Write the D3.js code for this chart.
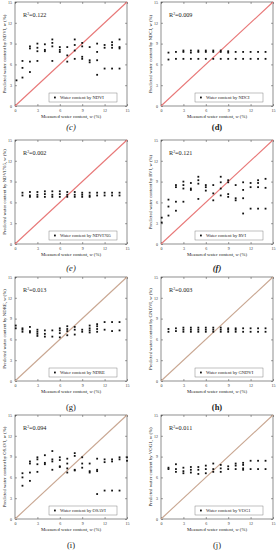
<!DOCTYPE html>
<html>
<head>
<meta charset="utf-8">
<script src="https://cdn.jsdelivr.net/npm/d3@7"></script>
<style>
  html, body { margin: 0; padding: 0; background: #fff; }
  svg text { font-family: "Liberation Serif", "DejaVu Serif", serif; }
</style>
</head>
<body>
<svg id="chart" width="276" height="550"></svg>
<script>
// panel labels, index names and R² values
const panelLabels = ["(c)", "(d)", "(e)", "(f)", "(g)", "(h)", "(i)", "(j)"];
const indexNames = ["NDVI", "NDCI", "NDVI705", "RVI", "NDRE", "GNDVI", "OSAVI", "VOG1"];
const r2Values = ["0.122", "0.009", "0.002", "0.121", "0.013", "0.003", "0.094", "0.011"];
const axisTicks = [0, 3, 6, 9, 12, 15];

// [measured, predicted] pairs for each panel
const ndviPoints = [
  [0.2, 3.7], [1, 6.5], [1, 5.5], [1, 4.1],
  [2, 8.6], [2, 8.3], [2, 6.4], [2, 4.9],
  [3, 9.0], [3, 8.4], [3, 7.9], [3, 6.5],
  [4, 8.9], [4, 8.1], [4, 7.9],
  [5, 9.6], [5, 9.1], [5, 8.6], [5, 6.5],
  [6, 8.5], [6, 8.1], [6, 7.8],
  [7, 8.5], [7, 7.3], [7, 6.4],
  [8, 9.6], [8, 8.8], [8, 8.0], [8, 6.8],
  [9, 9.1], [9, 8.6], [9, 7.1], [9, 6.8],
  [10, 8.5], [10, 6.6], [10, 6.3],
  [11, 9.0], [11, 7.8], [11, 6.6], [11, 4.5],
  [12, 8.8], [12, 8.4], [12, 5.4],
  [13, 9.2], [13, 8.8], [13, 8.4], [13, 5.4],
  [14, 9.6], [14, 8.5], [14, 8.3], [14, 5.4]
];
const ndciPoints = [
  [1, 7.7], [1, 6.7], [2, 7.8], [2, 6.8], [3, 8.0], [3, 7.8], [3, 6.8],
  [4, 8.0], [4, 7.7], [4, 6.8], [5, 8.0], [5, 7.8], [5, 6.8],
  [6, 8.0], [6, 7.8], [6, 6.8], [7, 8.0], [7, 7.8], [7, 6.8],
  [8, 8.0], [8, 7.8], [8, 6.8], [9, 7.9], [9, 7.7], [9, 6.8],
  [10, 7.8], [10, 6.8], [11, 7.8], [11, 6.8], [12, 7.8], [12, 6.8],
  [13, 7.8], [13, 6.8], [14, 7.8], [14, 6.8]
];
const ndvi705Points = [
  [1, 7.4], [1, 7.0], [2, 7.5], [2, 7.0], [2, 6.8], [3, 7.5], [3, 7.1], [3, 6.8],
  [4, 7.6], [4, 7.2], [4, 6.8], [5, 7.6], [5, 7.1], [5, 6.8],
  [6, 7.6], [6, 7.2], [6, 6.8], [7, 7.5], [7, 7.1], [7, 6.8],
  [8, 7.5], [8, 7.1], [8, 6.8], [9, 7.4], [9, 7.1], [9, 6.8],
  [10, 7.4], [10, 7.0], [10, 6.8], [11, 7.4], [11, 7.0], [12, 7.4], [12, 7.0],
  [13, 7.4], [13, 7.0], [14, 7.4], [14, 7.0]
];
const rviPoints = [
  [0.1, 3.8], [0.1, 3.1], [1, 6.4], [1, 5.4], [1, 4.1],
  [2, 8.5], [2, 8.2], [2, 6.1], [2, 4.8],
  [3, 9.0], [3, 8.5], [3, 8.0], [3, 6.1],
  [4, 8.8], [4, 8.0], [4, 7.8],
  [5, 9.7], [5, 9.2], [5, 8.7], [5, 6.5],
  [6, 8.5], [6, 8.2], [6, 7.7],
  [7, 8.5], [7, 7.3], [7, 6.3],
  [8, 9.7], [8, 8.9], [8, 8.0], [8, 7.0],
  [9, 9.2], [9, 8.9], [9, 7.2], [9, 6.8],
  [10, 8.5], [10, 6.6], [10, 6.3],
  [11, 8.9], [11, 7.8], [11, 6.6], [11, 4.4],
  [12, 8.8], [12, 8.2], [12, 5.1],
  [13, 9.2], [13, 8.8], [13, 8.2], [13, 5.1],
  [14, 9.4], [14, 8.1], [14, 5.1]
];
const ndrePoints = [
  [0.1, 8.0], [0.1, 7.6], [1, 7.6], [1, 7.4], [1, 7.1],
  [2, 7.8], [2, 7.2], [2, 7.0], [3, 7.4], [3, 7.1], [3, 6.8], [3, 6.5],
  [4, 7.3], [4, 6.8], [4, 6.4], [5, 7.3], [5, 6.4],
  [6, 7.6], [6, 7.3], [6, 6.9], [6, 6.3], [7, 7.9], [7, 7.5], [7, 7.2], [7, 6.6],
  [8, 7.8], [8, 7.4], [8, 6.7], [9, 7.4], [9, 7.1],
  [10, 8.0], [10, 7.6], [10, 7.3], [10, 7.0], [11, 8.2], [11, 7.9], [11, 7.5], [11, 7.1],
  [12, 8.5], [12, 7.4], [13, 8.5], [13, 7.2], [14, 8.5], [14, 7.3]
];
const gndviPoints = [
  [1, 7.5], [1, 7.1], [2, 7.6], [2, 7.2], [3, 7.7], [3, 7.4], [3, 7.1],
  [4, 7.7], [4, 7.4], [4, 7.1], [5, 7.7], [5, 7.4], [5, 7.1],
  [6, 7.7], [6, 7.4], [6, 7.1], [7, 7.7], [7, 7.4], [7, 7.1],
  [8, 7.7], [8, 7.4], [8, 7.1], [9, 7.6], [9, 7.4], [9, 7.1],
  [10, 7.6], [10, 7.4], [10, 7.1], [11, 7.6], [11, 7.1], [12, 7.6], [12, 7.1],
  [13, 7.6], [13, 7.1], [14, 7.6], [14, 7.1]
];
const osaviPoints = [
  [1, 6.6], [1, 6.0], [1, 4.8],
  [2, 8.3], [2, 8.0], [2, 6.7], [2, 5.5],
  [3, 8.9], [3, 8.6], [3, 7.9], [3, 6.8],
  [4, 9.2], [4, 8.1], [4, 7.9],
  [5, 9.8], [5, 8.6], [5, 8.3], [5, 7.1],
  [6, 8.9], [6, 8.5], [6, 7.6], [6, 7.5],
  [7, 8.7], [7, 8.0], [7, 7.3], [7, 6.7],
  [8, 9.5], [8, 9.1], [8, 7.1], [8, 7.0],
  [9, 8.9], [9, 8.0], [9, 7.4],
  [10, 8.0], [10, 6.9], [10, 6.7],
  [11, 8.7], [11, 7.1], [11, 6.9], [11, 3.6],
  [12, 8.6], [12, 8.2], [12, 4.1],
  [13, 8.6], [13, 8.3], [13, 4.1],
  [14, 8.9], [14, 8.6], [14, 4.1], [15, 8.9], [15, 8.4]
];
const vog1Points = [
  [1, 7.4], [1, 7.2], [2, 7.9], [2, 7.2], [2, 6.8],
  [3, 7.4], [3, 6.9], [3, 6.6], [4, 7.5], [4, 7.1], [4, 6.7],
  [5, 7.5], [5, 7.1], [5, 6.5], [6, 7.7], [6, 7.2], [6, 6.6],
  [7, 8.0], [7, 7.2], [7, 6.8], [8, 7.8], [8, 7.3], [8, 6.8],
  [9, 7.6], [9, 7.2], [10, 8.0], [10, 7.7], [10, 7.2],
  [11, 8.1], [11, 7.8], [11, 7.3], [11, 7.1],
  [12, 8.4], [12, 7.2], [13, 8.4], [13, 7.2], [14, 8.4], [14, 7.2]
];
const panelPoints = [ndviPoints, ndciPoints, ndvi705Points, rviPoints,
                     ndrePoints, gndviPoints, osaviPoints, vog1Points];

// layout of each plot box
const colLeft = [15, 161];
const boxW = 112;
const rowTop = [2, 140, 277, 415];
const boxH = 104;
const labelY = [130, 271, 410, 548];
const labelStyle = [
  { style: "italic", weight: "normal" }, { style: "normal", weight: "bold" },
  { style: "italic", weight: "normal" }, { style: "italic", weight: "bold" },
  { style: "normal", weight: "normal" }, { style: "normal", weight: "bold" },
  { style: "normal", weight: "normal" }, { style: "normal", weight: "normal" }
];

const svg = d3.select("#chart");

panelLabels.forEach((label, i) => {
  const col = i % 2, row = Math.floor(i / 2);
  const x0 = colLeft[col], y0 = rowTop[row];
  const diagColor = row < 2 ? "#e87878" : "#c9a792";

  const x = d3.scaleLinear().domain([0, 15]).range([0, boxW]);
  const y = d3.scaleLinear().domain([0, 15]).range([boxH, 0]);

  const g = svg.append("g").attr("transform", `translate(${x0},${y0})`);

  // frame
  g.append("rect").attr("width", boxW).attr("height", boxH)
    .attr("fill", "none").attr("stroke", "#444").attr("stroke-width", 0.6);

  // axes with inward ticks on all sides
  const axisStyle = sel => {
    sel.select(".domain").remove();
    sel.selectAll("line").attr("stroke", "#444").attr("stroke-width", 0.5);
    sel.selectAll("text").attr("font-size", 4).attr("fill", "#333")
      .style("font-family", "Liberation Serif, serif");
  };
  g.append("g").attr("transform", `translate(0,${boxH})`)
    .call(d3.axisBottom(x).tickValues(axisTicks).tickSize(-2).tickPadding(3.5))
    .call(axisStyle);
  g.append("g")
    .call(d3.axisTop(x).tickValues(axisTicks).tickSize(-2).tickFormat(""))
    .call(axisStyle);
  g.append("g")
    .call(d3.axisLeft(y).tickValues(axisTicks).tickSize(-2).tickPadding(3))
    .call(axisStyle);
  g.append("g").attr("transform", `translate(${boxW},0)`)
    .call(d3.axisRight(y).tickValues(axisTicks).tickSize(-2).tickFormat(""))
    .call(axisStyle);

  // 1:1 line
  g.append("line")
    .attr("x1", x(0)).attr("y1", y(0)).attr("x2", x(15)).attr("y2", y(15))
    .attr("stroke", diagColor).attr("stroke-width", 1.1);

  // points
  g.selectAll("rect.pt").data(panelPoints[i]).join("rect")
    .attr("class", "pt")
    .attr("x", d => x(d[0]) - 0.9).attr("y", d => y(d[1]) - 0.9)
    .attr("width", 1.8).attr("height", 1.8).attr("fill", "#111");

  // R² text
  const r2 = g.append("text").attr("x", 8).attr("y", 15)
    .attr("font-size", 6.2).attr("fill", "#222");
  r2.append("tspan").text("R");
  r2.append("tspan").attr("font-size", 3.8).attr("dy", -2.5).text("2");
  r2.append("tspan").attr("dy", 2.5).text("=" + r2Values[i]);

  // legend
  const lg = g.append("g").attr("transform", `translate(${boxW - 78},${boxH - 13})`);
  lg.append("rect").attr("width", 68).attr("height", 9)
    .attr("fill", "#fff").attr("stroke", "#666").attr("stroke-width", 0.4);
  lg.append("rect").attr("x", 5).attr("y", 3.6).attr("width", 1.8).attr("height", 1.8)
    .attr("fill", "#111");
  lg.append("text").attr("x", 11).attr("y", 6.3).attr("font-size", 4.6).attr("fill", "#222")
    .text("Water content by " + indexNames[i]);

  // axis titles
  const xt = g.append("text").attr("x", boxW / 2).attr("y", boxH + 12)
    .attr("text-anchor", "middle").attr("font-size", 4.8).attr("fill", "#222");
  xt.append("tspan").text("Measured water content, ");
  xt.append("tspan").attr("font-style", "italic").text("w");
  xt.append("tspan").text(" (%)");

  const yt = g.append("text")
    .attr("transform", `translate(-9,${boxH / 2}) rotate(-90)`)
    .attr("text-anchor", "middle").attr("font-size", 4.8).attr("fill", "#222");
  yt.append("tspan").text("Predicted water content by " + indexNames[i] + ", ");
  yt.append("tspan").attr("font-style", "italic").text("w");
  yt.append("tspan").text(" (%)");

  // panel label
  svg.append("text").attr("x", x0 + boxW / 2).attr("y", labelY[row])
    .attr("text-anchor", "middle").attr("font-size", 8.5)
    .attr("font-style", labelStyle[i].style).attr("font-weight", labelStyle[i].weight)
    .attr("fill", "#222").text(label);
});
</script>
</body>
</html>
